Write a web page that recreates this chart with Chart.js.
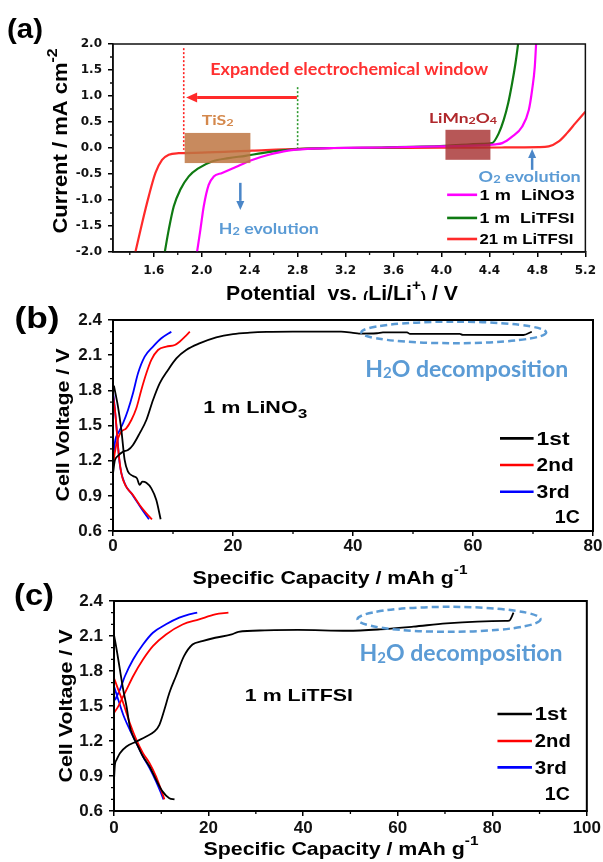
<!DOCTYPE html>
<html><head><meta charset="utf-8">
<script src="https://cdn.jsdelivr.net/npm/chart.js@4.4.1/dist/chart.umd.min.js"></script>
<style>
html,body{margin:0;padding:0;background:#fff;}
#wrap{position:relative;width:603px;height:862px;overflow:hidden;background:#fff;}
canvas{position:absolute;left:0;}
</style></head><body>
<div id="wrap">
<canvas id="ca" width="603" height="300" style="top:0px;width:603px;height:300px"></canvas>
<canvas id="cb" width="603" height="300" style="top:290px;width:603px;height:300px"></canvas>
<canvas id="cc" width="603" height="292" style="top:570px;width:603px;height:292px"></canvas>
</div>
<script>
// ================= DATA =================
// (a) Potential vs. Li/Li+ (V) , Current (mA cm-2)
const aLiNO3_1m = [[1.961,-2.0],[1.989,-1.57],[2.017,-1.12],[2.058,-0.71],[2.10,-0.55],[2.17,-0.48],[2.28,-0.37],[2.42,-0.23],[2.56,-0.13],[2.72,-0.05],[2.89,-0.015],[3.1,0.0],[3.5,0.01],[4.0,0.03],[4.3,0.05],[4.45,0.07],[4.506,0.094],[4.589,0.22],[4.672,0.41],[4.728,0.73],[4.756,1.12],[4.778,1.56],[4.789,2.0]];
const aLiTFSI_1m = [[1.692,-2.0],[1.725,-1.57],[1.767,-1.12],[1.822,-0.80],[1.892,-0.546],[1.975,-0.386],[2.086,-0.258],[2.225,-0.194],[2.364,-0.15],[2.503,-0.098],[2.669,-0.047],[2.836,-0.015],[3.1,0.0],[3.5,0.01],[4.03,0.04],[4.339,0.08],[4.422,0.094],[4.478,0.286],[4.519,0.54],[4.556,0.86],[4.589,1.245],[4.617,1.63],[4.639,2.0]];
const aLiTFSI_21m = [[1.447,-2.0],[1.503,-1.44],[1.558,-0.93],[1.614,-0.48],[1.669,-0.23],[1.725,-0.13],[1.808,-0.10],[2.0,-0.09],[2.42,-0.05],[2.81,-0.015],[3.2,0.0],[4.0,0.005],[4.5,0.01],[4.811,0.015],[4.894,0.03],[4.978,0.126],[5.047,0.286],[5.117,0.478],[5.2,0.70]];
const aXTicks = [1.6,2.0,2.4,2.8,3.2,3.6,4.0,4.4,4.8,5.2];
const aXLabels = ['1.6','2.0','2.4','2.8','3.2','3.6','4.0','4.4','4.8','5.2'];
const aYTicks = [-2,-1.5,-1,-0.5,0,0.5,1,1.5,2];
const aYLabels = ['-2.0','-1.5','-1.0','-0.5','0.0','0.5','1.0','1.5','2.0'];
const aSeriesNames = ['1 m  LiNO3','1 m  LiTFSI','21 m LiTFSI'];

// (b) 1 m LiNO3 : Specific capacity (mAh g-1), Cell voltage (V)
const b1stDischarge = [[0.15,1.84],[0.83,1.661],[1.39,1.462],[1.94,1.206],[2.5,1.106],[3.33,1.069],[4.0,1.049],[4.44,0.993],[4.89,1.021],[5.56,1.012],[6.39,0.964],[7.22,0.864],[7.94,0.70]];
const b1stCharge = [[0,1.09],[0.3,1.20],[0.8,1.24],[1.7,1.277],[2.5,1.29],[3.33,1.334],[4.44,1.433],[5.56,1.547],[6.67,1.718],[7.78,1.86],[9.17,1.974],[10.56,2.073],[12.2,2.144],[14.4,2.20],[17.2,2.252],[20,2.28],[22.8,2.292],[25.6,2.298],[30,2.30],[38,2.30],[40,2.29],[41,2.284],[44,2.287],[45,2.294],[49,2.294],[49.5,2.282],[57.8,2.281],[58.3,2.273],[68.4,2.272],[69.8,2.30]];
const b2ndDischarge = [[0,1.76],[0.44,1.576],[0.83,1.32],[1.39,1.092],[2.2,0.978],[3.33,0.907],[4.44,0.822],[5.56,0.751],[6.5,0.70]];
const b2ndCharge = [[0,1.149],[0.28,1.263],[0.83,1.39],[1.39,1.448],[2.2,1.476],[3.06,1.547],[3.89,1.647],[4.72,1.803],[5.56,1.945],[6.39,2.059],[7.5,2.144],[8.89,2.173],[10.3,2.187],[11.1,2.215],[12.0,2.258],[12.8,2.30]];
const b3rdDischarge = [[0,1.79],[0.28,1.66],[0.67,1.433],[1.11,1.177],[1.94,1.007],[3.06,0.921],[4.17,0.836],[5.28,0.751],[6.0,0.70]];
const b3rdCharge = [[0,1.206],[0.39,1.376],[1.0,1.448],[1.67,1.519],[2.5,1.632],[3.33,1.775],[4.17,1.945],[5.28,2.087],[6.67,2.173],[8.06,2.244],[9.72,2.30]];
const bXTicks = [0,20,40,60,80];
const bXLabels = ['0','20','40','60','80'];

// (c) 1 m LiTFSI
const c1stDischarge = [[0,2.11],[0.56,1.984],[1.25,1.812],[1.95,1.64],[2.65,1.497],[3.34,1.325],[4.04,1.239],[5.08,1.153],[6.13,1.067],[7.52,0.981],[8.91,0.867],[10.3,0.766],[11.7,0.709],[12.8,0.70]];
const c1stCharge = [[0,0.87],[0.2,1.0],[0.56,1.04],[1.25,1.096],[2.65,1.153],[4.74,1.196],[6.82,1.239],[8.57,1.282],[9.6,1.339],[10.65,1.468],[11.7,1.612],[13.1,1.755],[14.8,1.927],[16.6,2.027],[18.66,2.056],[21.4,2.085],[24.9,2.113],[26.3,2.136],[31.9,2.148],[38.9,2.152],[49.4,2.145],[56.3,2.157],[63.3,2.18],[70.3,2.208],[82.8,2.23],[83.6,2.232],[84.5,2.30]];
const c2ndDischarge = [[0,1.74],[0.9,1.64],[1.95,1.526],[3.34,1.354],[4.74,1.21],[6.13,1.096],[7.52,1.01],[8.91,0.895],[9.96,0.781],[10.65,0.70]];
const c2ndCharge = [[0,1.44],[0.9,1.497],[1.6,1.554],[2.65,1.64],[4.04,1.755],[6.13,1.898],[8.22,2.013],[11.0,2.113],[14.5,2.199],[18.0,2.242],[21.4,2.285],[24.2,2.30]];
const c3rdDischarge = [[0,1.67],[0.9,1.554],[1.95,1.425],[3.34,1.296],[4.74,1.182],[6.13,1.067],[7.52,0.967],[8.91,0.852],[9.96,0.752],[10.45,0.70]];
const c3rdCharge = [[0.2,1.55],[1.25,1.64],[2.3,1.755],[4.04,1.898],[6.13,2.027],[8.22,2.128],[11.0,2.2],[13.8,2.257],[15.9,2.285],[17.6,2.30]];
const cXTicks = [0,20,40,60,80,100];
const cXLabels = ['0','20','40','60','80','100'];

const vYTicks = [0.6,0.9,1.2,1.5,1.8,2.1,2.4];
const vYLabels = ['0.6','0.9','1.2','1.5','1.8','2.1','2.4'];
const cycleNames = ['1st','2nd','3rd'];

// ================= HELPERS =================
const FONT = '"Liberation Sans", Arial, Helvetica, sans-serif';
const HUMANIST = 'Lato, "Open Sans", "Liberation Sans", sans-serif';
const BLUE_TXT = '#5b9bd5';

function rich(ctx, segs, x, y, o) {
  const size = o.size, wt = o.weight || 'bold', fam = o.family || FONT;
  ctx.save();
  ctx.fillStyle = o.color || '#000';
  ctx.textBaseline = 'alphabetic';
  ctx.textAlign = 'left';
  const ws = []; let w = 0;
  segs.forEach(sg => { ctx.font = wt + ' ' + (size*(sg.s||1)).toFixed(2) + 'px ' + fam; const m = ctx.measureText(sg.t).width; ws.push(m); w += m; });
  const sx = o.width ? o.width / w : 1;
  ctx.translate(x, y);
  if (o.rot) ctx.rotate(o.rot);
  ctx.scale(sx, 1);
  let cx = o.align === 'left' ? 0 : (o.align === 'right' ? -w : -w/2);
  const base = size * 0.358;
  segs.forEach((sg, i) => { ctx.font = wt + ' ' + (size*(sg.s||1)).toFixed(2) + 'px ' + fam; ctx.fillText(sg.t, cx, base + (sg.dy||0)*size); cx += ws[i]; });
  ctx.restore();
}
function arrow(ctx, x1, y1, x2, y2, color, lw, hl, hw) {
  const ang = Math.atan2(y2-y1, x2-x1);
  const bx = x2 - hl*Math.cos(ang), by = y2 - hl*Math.sin(ang);
  ctx.save(); ctx.strokeStyle = color; ctx.fillStyle = color; ctx.lineWidth = lw;
  ctx.beginPath(); ctx.moveTo(x1, y1); ctx.lineTo(bx, by); ctx.stroke();
  ctx.beginPath(); ctx.moveTo(x2, y2);
  ctx.lineTo(bx + hw/2*Math.sin(ang), by - hw/2*Math.cos(ang));
  ctx.lineTo(bx - hw/2*Math.sin(ang), by + hw/2*Math.cos(ang));
  ctx.closePath(); ctx.fill(); ctx.restore();
}
function seg(ctx, x1, y1, x2, y2, color, lw, dash) {
  ctx.save(); ctx.strokeStyle = color; ctx.lineWidth = lw; if (dash) ctx.setLineDash(dash);
  ctx.beginPath(); ctx.moveTo(x1, y1); ctx.lineTo(x2, y2); ctx.stroke(); ctx.restore();
}
function frameAndMinor(chart, lw, color, xMinor, yMinor, len) {
  const ctx = chart.ctx, a = chart.chartArea, xs = chart.scales.x, ys = chart.scales.y;
  ctx.save(); ctx.strokeStyle = color; ctx.lineWidth = lw;
  ctx.strokeRect(a.left, a.top, a.right - a.left, a.bottom - a.top);
  ctx.lineWidth = 1.3; ctx.beginPath();
  xMinor.forEach(v => { const p = xs.getPixelForValue(v); ctx.moveTo(p, a.bottom); ctx.lineTo(p, a.bottom + len); });
  yMinor.forEach(v => { const p = ys.getPixelForValue(v); ctx.moveTo(a.left, p); ctx.lineTo(a.left - len, p); });
  ctx.stroke(); ctx.restore();
}
function stepList(from, to, step, skipEvery) {
  const out = []; let k = 0;
  for (let v = from; v <= to + 1e-9; v += step, k++) { if (!skipEvery || k % skipEvery !== 0) out.push(+v.toFixed(4)); }
  return out;
}
function ds(label, pts, color, w) {
  return { label, data: pts.map(p => ({x: p[0], y: p[1]})), borderColor: color, backgroundColor: color,
    borderWidth: w, pointRadius: 0, fill: false, cubicInterpolationMode: 'monotone' };
}
function makeChart(id, H, area, xr, yr, xT, xL, yT, yL, tickFont, tickPad, tickLen, axisW, datasets, draw) {
  return new Chart(document.getElementById(id), {
    type: 'line',
    data: { datasets },
    options: {
      responsive: false, animation: false, devicePixelRatio: 1,
      layout: { autoPadding: false, padding: { left: 0, top: area.top, right: 603 - area.right, bottom: 0 } },
      plugins: { legend: { display: false }, tooltip: { enabled: false } },
      scales: {
        x: { type: 'linear', position: 'bottom', min: xr[0], max: xr[1],
          afterBuildTicks: s => { s.ticks = xT.map(v => ({ value: v })); },
          afterFit: s => { s.height = H - area.bottom; },
          grid: { drawOnChartArea: false, drawTicks: true, tickLength: tickLen, color: '#000', lineWidth: 1.5 },
          border: { display: true, color: '#000', width: axisW },
          ticks: { autoSkip: false, maxRotation: 0, padding: tickPad.x, color: '#111', font: tickFont, callback: (v, i) => xL[i] } },
        y: { type: 'linear', position: 'left', min: yr[0], max: yr[1],
          afterBuildTicks: s => { s.ticks = yT.map(v => ({ value: v })); },
          afterFit: s => { s.width = area.left; },
          grid: { drawOnChartArea: false, drawTicks: true, tickLength: tickLen, color: '#000', lineWidth: 1.5 },
          border: { display: true, color: '#000', width: axisW },
          ticks: { autoSkip: false, padding: tickPad.y, color: '#111', font: tickFont, callback: (v, i) => yL[i] } }
      }
    },
    plugins: [{ id: 'decor_' + id, afterDraw: draw }]
  });
}

// ================= PANEL (a) =================
const colA = ['#ff00ff', '#0f7a12', '#ff2a2a'];
makeChart('ca', 300, {left: 113, right: 586, top: 44, bottom: 252}, [1.26, 5.2], [-2, 2],
  aXTicks, aXLabels, aYTicks, aYLabels,
  { family: '"DejaVu Sans", sans-serif', size: 12, weight: 'bold' }, { x: 7, y: 6 }, 5, 1.5,
  [ds(aSeriesNames[0], aLiNO3_1m, colA[0], 2.2), ds(aSeriesNames[1], aLiTFSI_1m, colA[1], 2.2), ds(aSeriesNames[2], aLiTFSI_21m, colA[2], 2.2)],
  function (chart) {
    const ctx = chart.ctx, X = v => chart.scales.x.getPixelForValue(v), Y = v => chart.scales.y.getPixelForValue(v);
    ctx.save();
    ctx.fillStyle = 'rgba(190,118,66,0.85)';
    ctx.fillRect(X(1.858), Y(0.29), X(2.406) - X(1.858), Y(-0.29) - Y(0.29));
    ctx.fillStyle = 'rgba(165,45,45,0.8)';
    ctx.fillRect(X(4.033), Y(0.35), X(4.408) - X(4.033), Y(-0.227) - Y(0.35));
    ctx.restore();
    seg(ctx, X(1.85), Y(1.92), X(1.85), Y(-0.035), '#ff2020', 1.6, [2, 2]);
    seg(ctx, X(2.8), Y(1.17), X(2.8), Y(0.0), '#2f9a2f', 1.6, [2, 2]);
    arrow(ctx, X(2.794), Y(0.97), X(1.87), Y(0.97), '#ff2a2a', 3, 11, 10);
    arrow(ctx, X(2.322), Y(-0.67), X(2.322), Y(-1.19), '#4a86c8', 2.5, 9, 8);
    arrow(ctx, X(4.756), Y(-0.42), X(4.756), Y(-0.02), '#4a86c8', 2.5, 9, 8);
    rich(ctx, [{t: 'Expanded electrochemical window'}], X(3.23), Y(1.53), {size: 17, width: 278, color: '#ff3030', family: HUMANIST});
    rich(ctx, [{t: 'TiS'}, {t: '2', s: 0.72, dy: 0.05}], X(2.133), Y(0.54), {size: 14, width: 32, color: '#d4884c', family: HUMANIST});
    rich(ctx, [{t: 'LiMn'}, {t: '2', s: 0.72, dy: 0.05}, {t: 'O'}, {t: '4', s: 0.72, dy: 0.05}], X(4.18), Y(0.57), {size: 14, width: 68, color: '#b0282c', family: HUMANIST});
    rich(ctx, [{t: 'H'}, {t: '2', s: 0.72, dy: 0.05}, {t: ' evolution'}], X(2.56), Y(-1.557), {size: 15, width: 100, color: BLUE_TXT, family: HUMANIST});
    rich(ctx, [{t: 'O'}, {t: '2', s: 0.72, dy: 0.05}, {t: ' evolution'}], X(4.735), Y(-0.547), {size: 15, width: 102, color: BLUE_TXT, family: HUMANIST});
    const legY = [-0.90, -1.345, -1.75], legW = [95, 95, 94];
    chart.data.datasets.forEach((d, i) => {
      seg(ctx, X(4.047), Y(legY[i]), X(4.297), Y(legY[i]), d.borderColor, 2.6);
      rich(ctx, [{t: d.label}], X(4.317), Y(legY[i]), {size: 15, width: legW[i], align: 'left'});
    });
    frameAndMinor(chart, 1.5, '#111', stepList(1.4, 5.0, 0.4), stepList(-1.75, 1.75, 0.5), 3);
    rich(ctx, [{t: 'Current / mA cm'}, {t: '-2', s: 0.72, dy: -0.5}], 60, 141, {size: 20, width: 185, rot: -Math.PI/2});
    rich(ctx, [{t: 'Potential  vs. '}, {t: '(', s: 0.75, dy: 0.1}, {t: 'Li/Li'}, {t: '+', s: 0.72, dy: -0.5}, {t: ')', s: 0.75, dy: 0.1}, {t: ' / V'}], 342, 293, {size: 20, width: 232});
    rich(ctx, [{t: '(a)'}], 25, 28, {size: 28, width: 36});
  });

// ================= PANELS (b), (c) =================
const colC = ['#000000', '#ff0000', '#0000ff'];
const vTickFont = { family: FONT, size: 17, weight: 'bold' };
function voltDecor(chart, o) {
  const ctx = chart.ctx, X = v => chart.scales.x.getPixelForValue(v), Y = v => chart.scales.y.getPixelForValue(v);
  ctx.save(); ctx.strokeStyle = '#5b9bd5'; ctx.lineWidth = 2.5; ctx.setLineDash([7, 4]);
  ctx.beginPath();
  ctx.ellipse((X(o.ell[0]) + X(o.ell[1]))/2, (Y(o.ell[2]) + Y(o.ell[3]))/2, (X(o.ell[1]) - X(o.ell[0]))/2, (Y(o.ell[2]) - Y(o.ell[3]))/2, 0, 0, Math.PI*2);
  ctx.stroke(); ctx.restore();
  rich(ctx, [{t: 'H'}, {t: '2', s: 0.65, dy: 0.08}, {t: 'O decomposition'}], X(o.h2o[0]), Y(o.h2o[1]), {size: 23, width: 203, color: BLUE_TXT, family: HUMANIST});
  rich(ctx, o.nameSegs, X(o.name[0]), Y(o.name[1]), {size: 17, width: o.name[2]});
  cycleNames.forEach((nm, i) => {
    seg(ctx, X(o.legX[0]), Y(o.legY[i]), X(o.legX[1]), Y(o.legY[i]), colC[i], 2.6);
    rich(ctx, [{t: nm}], X(o.legX[2]), Y(o.legY[i]), {size: 18, width: o.legW[i], align: 'left'});
  });
  rich(ctx, [{t: '1C'}], X(o.rate[0]), Y(o.rate[1]), {size: 18, width: 25, align: 'right'});
  frameAndMinor(chart, 2, '#000', o.xMinor, stepList(0.6, 2.4, 0.1, 3), 3);
  rich(ctx, [{t: 'Cell Voltage / V'}], o.yt[0], o.yt[1], {size: 19, width: 153, rot: -Math.PI/2});
  rich(ctx, [{t: 'Specific Capacity / mAh g'}, {t: '-1', s: 0.72, dy: -0.5}], o.xt[0], o.xt[1], {size: 19, width: 275});
  rich(ctx, [{t: o.panel}], o.pl[0], o.pl[1], {size: 30, width: o.pl[2]});
}

makeChart('cb', 300, {left: 113, right: 593, top: 30, bottom: 241}, [0, 80], [0.6, 2.4],
  bXTicks, bXLabels, vYTicks, vYLabels, vTickFont, { x: 0, y: 6 }, 5, 2,
  [ds(cycleNames[0], b1stDischarge, colC[0], 1.8), ds(cycleNames[0], b1stCharge, colC[0], 1.8),
   ds(cycleNames[1], b2ndDischarge, colC[1], 1.8), ds(cycleNames[1], b2ndCharge, colC[1], 1.8),
   ds(cycleNames[2], b3rdDischarge, colC[2], 1.8), ds(cycleNames[2], b3rdCharge, colC[2], 1.8)],
  chart => voltDecor(chart, {
    ell: [41.4, 72.2, 2.202, 2.386], h2o: [58.95, 1.988],
    nameSegs: [{t: '1 m LiNO'}, {t: '3', s: 0.8, dy: 0.3}], name: [23.7, 1.66, 104],
    legX: [64.5, 70.1, 70.6], legY: [1.39, 1.163, 0.935], legW: [33, 37, 33], rate: [77.8, 0.722],
    xMinor: [10, 30, 50, 70], yt: [62, 135], xt: [330, 287], panel: '(b)', pl: [37, 27, 45]
  }));

makeChart('cc', 292, {left: 114, right: 592, top: 31, bottom: 241}, [0, 100], [0.6, 2.4],
  cXTicks, cXLabels, vYTicks, vYLabels, vTickFont, { x: 2, y: 6 }, 5, 2,
  [ds(cycleNames[0], c1stDischarge, colC[0], 1.8), ds(cycleNames[0], c1stCharge, colC[0], 1.8),
   ds(cycleNames[1], c2ndDischarge, colC[1], 1.8), ds(cycleNames[1], c2ndCharge, colC[1], 1.8),
   ds(cycleNames[2], c3rdDischarge, colC[2], 1.8), ds(cycleNames[2], c3rdCharge, colC[2], 1.8)],
  chart => voltDecor(chart, {
    ell: [51.5, 90.2, 2.136, 2.35], h2o: [73.4, 1.954],
    nameSegs: [{t: '1 m LiTFSI'}], name: [39.1, 1.594, 108],
    legX: [81.1, 88.4, 89.0], legY: [1.431, 1.2, 0.974], legW: [32, 36, 32], rate: [96.4, 0.746],
    xMinor: [10, 30, 50, 70, 90], yt: [65, 136], xt: [341, 278], panel: '(c)', pl: [34, 24, 40]
  }));
</script>
</body></html>
